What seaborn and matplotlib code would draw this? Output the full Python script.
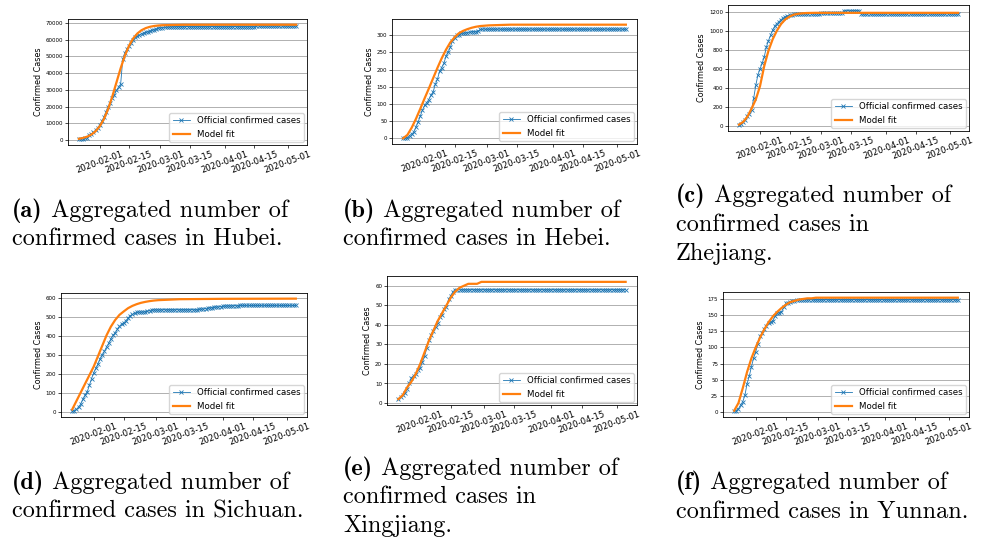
import matplotlib
matplotlib.use("Agg")
import numpy as np
import pandas as pd
import matplotlib.pyplot as plt
import matplotlib.dates as mdates
import matplotlib.ticker as mticker
import seaborn as sns

# daily official counts, 2020-01-22 .. 2020-05-05
dates = pd.date_range("2020-01-22", "2020-05-05", freq="D")

hubei_official = [444, 549, 729, 1052, 1423, 2714, 3554, 4586, 5806, 7153,
                  9074, 11177, 13522, 16678, 19665, 22112, 24953, 27100, 29631, 31728,
                  33366, 48206, 51986, 54406, 56249, 58182, 59989, 61682, 62031, 62662,
                  63454, 64084, 64287, 64786, 65187, 65596, 65914, 66337, 66907,
                  67103, 67217, 67332, 67466, 67592, 67666, 67707, 67743, 67760, 67773,
                  67781, 67786, 67790, 67794, 67798, 67799, 67799] \
    + [67800] * 5 + [67801] * 8 + [67802] * 3 + [67803] * 13 + [68128] * 20
hebei_official = [1, 1, 2, 8, 13, 18, 33, 48, 65, 82,
                  96, 104, 113, 126, 135, 157, 172, 195, 206, 218,
                  239, 251, 265, 283, 291, 300, 301, 306, 306, 307,
                  308, 309, 311, 311, 311, 312, 317, 318, 318] + [318] * 66
zhejiang_official = [10, 27, 43, 62, 104, 128, 173, 296, 428, 538,
                     599, 661, 724, 829, 895, 954, 1006, 1048, 1075, 1092,
                     1117, 1131, 1145, 1155, 1162, 1167, 1171, 1172, 1173, 1175] \
    + [1178] * 9 + [1180] * 11 + [1209] * 8 + [1177] * 47
sichuan_official = [5, 8, 15, 28, 44, 69, 90, 108, 142, 177,
                    207, 231, 254, 282, 301, 321, 344, 363, 386, 405,
                    417, 436, 451, 463, 470, 481, 495, 508, 514, 520,
                    525, 526, 526, 527, 529, 531, 534, 538, 538] \
    + [538] * 3 + [539] * 17 \
    + [541, 542, 543, 545, 547, 549, 550, 552, 553, 554, 555,
       557, 558, 559, 559, 559, 560, 560, 560] + [561] * 27
xinjiang_official = [2, 3, 4, 5, 7, 10, 13, 14, 15, 17,
                     18, 21, 24, 28, 32, 35, 37, 39, 41, 44,
                     45, 48, 49, 53, 55, 57, 58] + [58] * 78
yunnan_official = [1, 2, 5, 11, 16, 26, 44, 55, 70, 83,
                   93, 105, 117, 122, 128, 133, 138, 140, 141, 149,
                   153, 154, 155, 162, 168, 169, 171, 172, 172] + [174] * 76

# model fit, sampled
model_dates = pd.to_datetime([
    "2020-01-22", "2020-01-24", "2020-01-26", "2020-01-28", "2020-01-30",
    "2020-02-01", "2020-02-03", "2020-02-05", "2020-02-07", "2020-02-09",
    "2020-02-11", "2020-02-13", "2020-02-15", "2020-02-17", "2020-02-19",
    "2020-02-21", "2020-02-23", "2020-02-25", "2020-02-27", "2020-02-29",
    "2020-03-02", "2020-03-12", "2020-04-01", "2020-05-05"])
hubei_model = [758, 1240, 2019, 3266, 5230, 8213, 12568, 18528, 26010, 34450,
               42891, 50372, 56332, 60687, 63670, 65634, 66881, 67660, 68142, 68438,
               68618, 68877, 68900, 68900]
hebei_model = [0, 10, 31, 57, 86, 116, 145, 175, 205, 233, 258, 279, 294, 306,
               313, 318, 322, 325, 327, 328, 329, 331, 331, 331]
zhejiang_model = [17, 45, 100, 185, 280, 420, 630, 790, 910, 1000, 1070, 1118, 1148,
                  1167, 1177, 1182, 1185, 1186, 1187, 1187, 1187, 1187, 1187, 1187]
sichuan_model = [15, 60, 105, 150, 195, 240, 295, 350, 405, 450, 485, 512, 530, 547,
                 559, 568, 575, 580, 584, 587, 589, 594, 596, 597]
xinjiang_model = [2, 4, 8, 11, 15, 20, 26, 32, 37, 42, 46, 50, 54, 57, 59, 60, 61,
                  61, 61, 62, 62, 62, 62, 62]
yunnan_model = [2, 14, 37, 62, 83, 100, 115, 128, 139, 148, 155, 161, 166, 170, 172,
                174, 175, 176, 176, 177, 177, 177, 177, 177]

officials = [hubei_official, hebei_official, zhejiang_official,
             sichuan_official, xinjiang_official, yunnan_official]
models = [hubei_model, hebei_model, zhejiang_model,
          sichuan_model, xinjiang_model, yunnan_model]
ysteps = [10000, 50, 200, 100, 10, 25]

captions = [
    ["(a)", "Aggregated number of", "confirmed cases in Hubei."],
    ["(b)", "Aggregated number of", "confirmed cases in Hebei."],
    ["(c)", "Aggregated number of", "confirmed cases in", "Zhejiang."],
    ["(d)", "Aggregated number of", "confirmed cases in Sichuan."],
    ["(e)", "Aggregated number of", "confirmed cases in", "Xingjiang."],
    ["(f)", "Aggregated number of", "confirmed cases in Yunnan."],
]

W, H = 984, 540
# axes boxes in pixels: left, top, right, bottom
boxes = [(68, 19, 307, 145), (392, 19, 637, 144), (728, 5, 969, 131),
         (61, 293, 307, 417), (387, 276, 637, 405), (723, 292, 969, 417)]
cap_pos = [(12, [217, 245]), (343, [217, 245]), (676, [202, 231, 260]),
           (12, [489, 518]), (343, [475, 503, 532]), (676, [489, 518])]

fig = plt.figure(figsize=(W / 100, H / 100), dpi=100)
renderer = fig.canvas.get_renderer()
cap_size = 17.5

for i in range(6):
    l, t, r, b = boxes[i]
    ax = fig.add_axes([l / W, 1 - b / H, (r - l) / W, (b - t) / H])
    sns.lineplot(x=dates, y=officials[i], ax=ax, color="#1f77b4", lw=0.6,
                 marker="x", markersize=2.7, markeredgewidth=0.6,
                 markeredgecolor="#1f77b4", label="Official confirmed cases")
    sns.lineplot(x=model_dates, y=models[i], ax=ax, color="#ff7f0e", lw=1.6,
                 label="Model fit")
    ax.xaxis.set_major_locator(mdates.DayLocator(bymonthday=[1, 15]))
    ax.xaxis.set_major_formatter(mdates.DateFormatter("%Y-%m-%d"))
    ax.yaxis.set_major_locator(mticker.MultipleLocator(ysteps[i]))
    ax.tick_params(axis="x", labelsize=6.1, rotation=20, length=2, width=0.5, pad=1.5)
    ax.tick_params(axis="y", labelsize=4.0, length=2, width=0.5, pad=1.5)
    ax.set_ylabel("Confirmed Cases", fontsize=5.8, labelpad=2)
    ax.set_xlabel("")
    ax.grid(axis="y", color="#b0b0b0", lw=0.7)
    for s in ax.spines.values():
        s.set_linewidth(0.6)
    ax.legend(loc="lower right", fontsize=6.2, borderaxespad=0.35,
              handlelength=2.0, fancybox=True)

    # caption below the panel
    x0, ys = cap_pos[i]
    cap = captions[i]
    lab = fig.text(x0 / W, 1 - ys[0] / H, cap[0], fontsize=cap_size,
                   family=["cmb10", "DejaVu Serif"], va="baseline")
    bb = lab.get_window_extent(renderer)
    fig.text(bb.x1 / W, 1 - ys[0] / H, " " + cap[1], fontsize=cap_size,
             family=["cmr10", "DejaVu Serif"], va="baseline")
    for line, y in zip(cap[2:], ys[1:]):
        fig.text(x0 / W, 1 - y / H, line, fontsize=cap_size,
                 family=["cmr10", "DejaVu Serif"], va="baseline")

fig.savefig("out.png", dpi=100)
